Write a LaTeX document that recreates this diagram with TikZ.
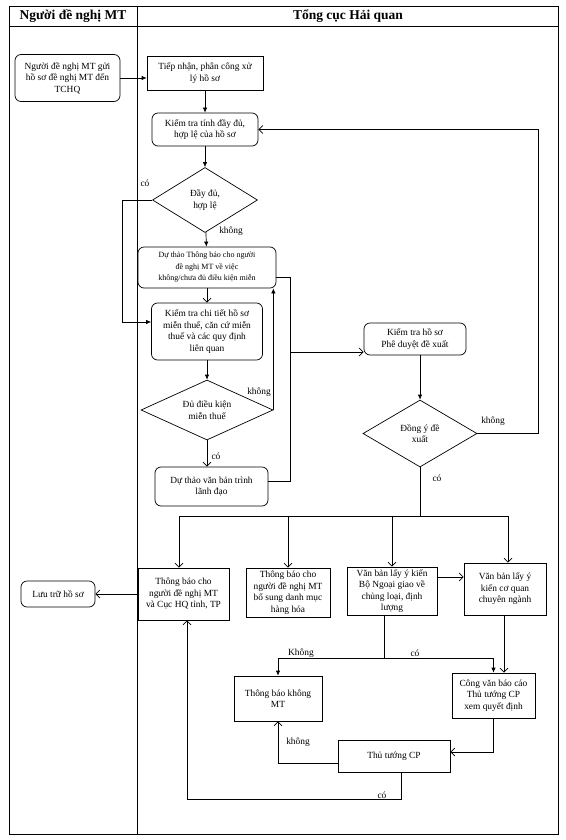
\documentclass[tikz,border=0pt]{standalone}
\usepackage{fontspec}
\setmainfont{Liberation Serif}
\usetikzlibrary{arrows.meta,shapes.geometric,calc}
\tikzset{
  every node/.style={font=\fontsize{9.4}{11.5}\selectfont, align=center, inner sep=1pt},
  ln/.style={line width=0.7pt},
  box/.style={draw, rectangle, ln},
  rbox/.style={draw, rectangle, rounded corners=6pt, ln},
  dec/.style={draw, diamond, aspect=2, inner sep=0pt, ln},
  sz/.style 2 args={minimum width=#1, minimum height=#2},
  hd/.style={font=\bfseries\fontsize{13.5}{15}\selectfont},
  fa/.style={ln, -{Latex[length=5pt,width=4.5pt]}},
  oa/.style={ln, -{Straight Barb[length=4pt,width=8pt]}},
}

\begin{document}
\begin{tikzpicture}[x=1pt,y=-1pt]
\useasboundingbox (0,0) rectangle (565,840);

% khung va lan
\draw[ln] (9,6) rectangle (558,834);
\draw[ln] (9,26) -- (558,26);
\draw[ln] (137,6) -- (137,834);
\node[hd] (hnd) at (73,16) {Người đề nghị MT};
\node[hd] (htc) at (348,16) {Tổng cục Hải quan};

% cac buoc
\node[rbox, sz={105pt}{47pt}] (gui) at (67.5,78) {Người đề nghị MT gửi\\hồ sơ đề nghị MT đến\\TCHQ};
\node[box, sz={116pt}{34pt}] (tiep) at (205,73) {Tiếp nhận, phân công xử\\lý hồ sơ};
\node[rbox, sz={106pt}{33pt}] (ktra) at (205,129.5) {Kiểm tra tính đầy đủ,\\hợp lệ của hồ sơ};
\node[dec, sz={105pt}{65pt}] (dd) at (205,200) {Đầy đủ,\\hợp lệ};
\node[rbox, sz={138pt}{41pt}, font=\fontsize{8}{11.5}\selectfont] (dtb) at (207,267.5) {Dự thảo Thông báo cho người\\đề nghị MT về việc\\không/chưa đủ điều kiện miễn};
\node[rbox, sz={111pt}{57pt}] (ktct) at (207,331.5) {Kiểm tra chi tiết hồ sơ\\miễn thuế, căn cứ miễn\\thuế và các quy định\\liên quan};
\node[dec, sz={132pt}{60pt}] (dk) at (207,410) {Đủ điều kiện\\miễn thuế};
\node[rbox, sz={113pt}{39pt}] (dtvb) at (211.5,486.5) {Dự thảo văn bản trình\\lãnh đạo};
\node[rbox, sz={102pt}{32pt}] (pd) at (415,339) {Kiểm tra hồ sơ\\Phê duyệt đề xuất};
\node[dec, sz={114pt}{67pt}] (dy) at (420,433.5) {Đồng ý đề\\xuất};

\node[box, sz={91pt}{52pt}] (tbk) at (183.5,594) {Thông báo cho\\người đề nghị MT\\và Cục HQ tỉnh, TP};
\node[box, sz={84pt}{49pt}] (tbl) at (288,592.5) {Thông báo cho\\người đề nghị MT\\bổ sung danh mục\\hàng hóa};
\node[box, sz={90pt}{48pt}] (vbng) at (392,591) {Văn bản lấy ý kiến\\Bộ Ngoại giao về\\chủng loại, định\\lượng};
\node[box, sz={82pt}{52pt}] (vbcq) at (505,589) {Văn bản lấy ý\\kiến cơ quan\\chuyên ngành};
\node[rbox, sz={74pt}{26pt}] (luu) at (58,594) {Lưu trữ hồ sơ};
\node[box, sz={88pt}{45pt}] (tbkm) at (278,698.5) {Thông báo không\\MT};
\node[box, sz={83pt}{45pt}] (cv) at (493.5,695.5) {Công văn báo cáo\\Thủ tướng CP\\xem quyết định};
\node[box, sz={112pt}{32pt}] (ttcp) at (394,756) {Thủ tướng CP};

% diem phu
\coordinate (c1) at (122,322);
\coordinate (c2) at (290,277);
\coordinate (c3) at (290,481);
\coordinate (c4) at (290,352);
\coordinate (c5) at (538,129.5);
\coordinate (br) at (420,516);
\coordinate (brl) at (179,516);
\coordinate (brr) at (508,516);
\coordinate (c7) at (437,577);
\coordinate (c8) at (384,658);
\coordinate (c9) at (504,640);
\coordinate (c12) at (401,799);
\coordinate (c13) at (187,799);

% noi cac buoc
\draw[fa] (gui.east) -- (gui.east -| tiep.west);
\draw[fa] (tiep) -- (ktra);
\draw[fa] (ktra) -- (dd);
\draw[fa] (dd) -- (dtb);
\draw[oa] (dtb) -- (ktct);
\draw[fa] (ktct) -- (dk);
\draw[oa] (dk.south) -- (dk.south |- dtvb.north);
\draw[fa] (dd.west) -- (dd.west -| c1) -- (c1) -- (c1 -| ktct.west);
\draw[fa] (dk.east) -- (dk.east |- dtb.south);
\draw[ln] (c2 -| dtb.east) -- (c2) -- (c3) -- (c3 -| dtvb.east);
\draw[oa] (c4) -- (c4 -| pd.west);
\draw[fa] (pd.south -| dy.north) -- (dy.north);
\draw[oa] (dy.east) -- (dy.east -| c5) -- (c5) -- (c5 -| ktra.east);
\draw[ln] (dy.south) -- (br);
\draw[ln] (brl) -- (brr);
\draw[oa] (brl) -- (brl |- tbk.north);
\draw[oa] (br -| tbl.north) -- (tbl.north);
\draw[oa] (br -| vbng.north) -- (vbng.north);
\draw[oa] (brr) -- (brr |- vbcq.north);
\draw[oa] (c7) -- (c7 -| vbcq.west);
\draw[oa] (tbk.west) -- (tbk.west -| luu.east);
\draw[ln] (c8 |- vbng.south) -- (c8);
\draw[fa] (c8) -| (tbkm.north);
\draw[fa] (c8) -| (cv.north);
\draw[oa] (c9 |- vbcq.south) -- (c9 |- cv.north);
\draw[oa] (cv.south) |- ($(ttcp.east)+(0,-4)$);
\draw[oa] ($(ttcp.west)+(0,7)$) -| (tbkm.south);
\draw[oa] (c12 |- ttcp.south) -- (c12) -- (c13) -- (c13 |- tbk.south);

% nhan
\node (l1) at (145,183) {có};
\node (l2) at (231,231) {không};
\node (l3) at (259,392) {không};
\node (l4) at (216,456) {có};
\node (l5) at (493,421) {không};
\node (l6) at (437,478) {có};
\node (l7) at (301,653) {Không};
\node (l8) at (415,653) {có};
\node (l9) at (298,742) {không};
\node (l10) at (382,795) {có};
\end{tikzpicture}
\end{document}
